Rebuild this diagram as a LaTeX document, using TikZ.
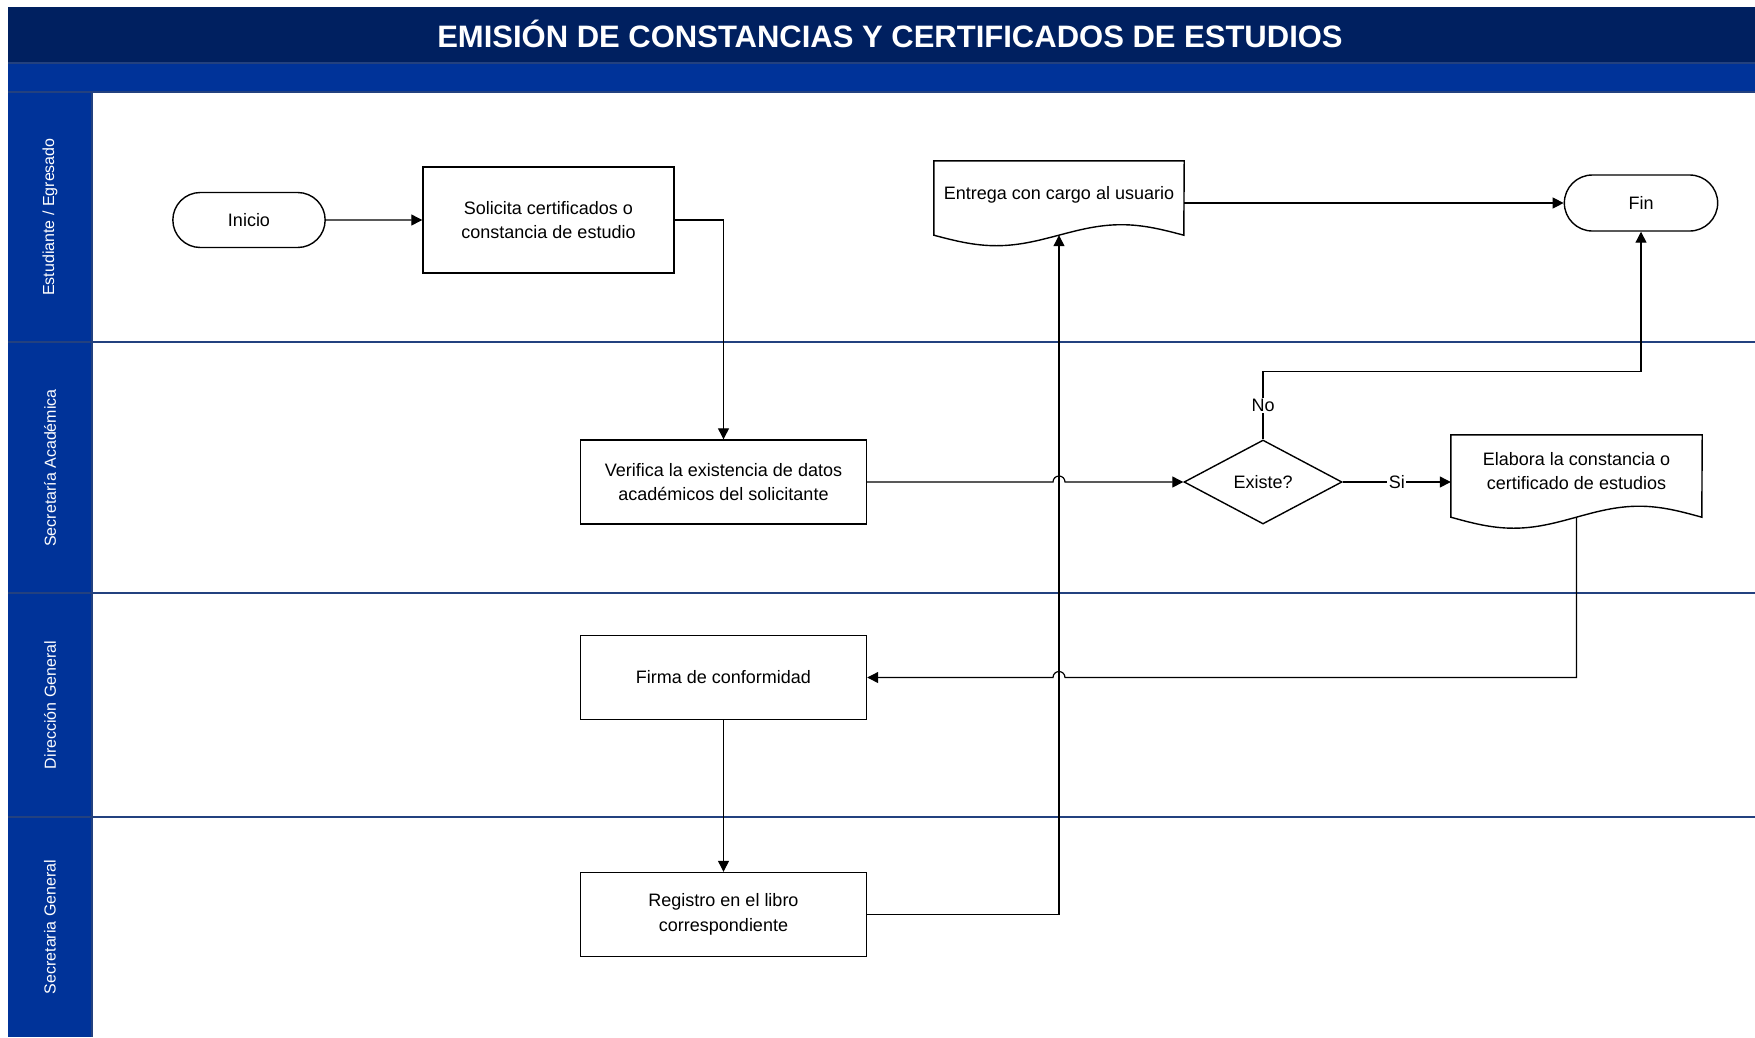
\documentclass[tikz,border=0pt]{standalone}
\usepackage{fontspec}
\setmainfont{Liberation Sans}
\usepackage{xcolor}
\usepackage{tikz}
\usetikzlibrary{arrows.meta,shapes.misc,shapes.geometric}
\definecolor{cTitulo}{HTML}{002060}
\definecolor{cCarril}{HTML}{003399}
\definecolor{cLinea}{HTML}{23417F}

\begin{document}
\begin{tikzpicture}[
  x=1pt,y=1pt,font=\fontsize{18}{24.6}\selectfont,
  caja/.style={draw=black,fill=white,line width=1.4pt,align=center,inner sep=2pt,
               minimum width=286,minimum height=84},
  term/.style={rounded rectangle,draw=black,fill=white,line width=1.4pt,align=center,
               minimum width=159,minimum height=55},
  doc/.style={rectangle,align=center,inner sep=2pt,minimum width=250,minimum height=74},
  dec/.style={diamond,draw=black,fill=white,line width=1.4pt,inner sep=0pt,
              minimum width=158,minimum height=84},
  borde/.style={draw=black,line width=1.4pt},
  ar/.style={-{Triangle[length=11pt,width=11pt]},draw=black,line width=1.2pt},
  sep/.style={draw=cLinea,line width=1.5pt},
  lbl/.style={fill=white,inner sep=1.5pt},
  carril/.style={rotate=90,text=white,font=\fontsize{16}{19}\selectfont},
  tit/.style={text=white,font=\fontsize{31}{36}\selectfont\bfseries}
]
\useasboundingbox (0,0) rectangle (1755,-1037);

% ---- encabezado y carriles
\fill[cTitulo] (8,-7) rectangle (1755,-63);
\fill[cCarril] (8,-63) rectangle (1755,-92);
\fill[cCarril] (8,-92) rectangle (92,-1037);
\draw[sep] (8,-63) -- (1755,-63);
\draw[sep] (8,-92) -- (1755,-92);
\draw[sep] (8,-342) -- (1755,-342);
\draw[sep] (8,-593) -- (1755,-593);
\draw[sep] (8,-817) -- (1755,-817);
\draw[sep] (92,-92) -- (92,-1037);
\node[tit] (titulo) at (890,-34) {EMISIÓN DE CONSTANCIAS Y CERTIFICADOS DE ESTUDIOS};
\node[carril] (l1) at (50,-217)   {Estudiante / Egresado};
\node[carril] (l2) at (50,-468)   {Secretaría Académica};
\node[carril] (l3) at (50,-705)   {Dirección General};
\node[carril] (l4) at (50,-927)   {Secretaria General};

% ---- carril 1
\node[term] (ini) at (249,-220)    {Inicio};
\node[caja,minimum width=251,minimum height=106] (sol) at (548.5,-220) {Solicita certificados o\\ constancia de estudio};
\node[doc,text depth=11pt] (ent) at (1059,-198) {Entrega con cargo al usuario};
\node[term,minimum width=160,minimum height=56] (fin) at (1641,-203) {Fin};

% ---- carril 2
\node[caja] (ver) at (723.5,-482)  {Verifica la existencia de datos\\ académicos del solicitante};
\node[dec] (exi) at (1263,-482)    {Existe?};
\node[doc,minimum width=251,minimum height=82,text depth=10pt] (ela) at (1576.5,-476) {Elabora la constancia o\\ certificado de estudios};

% ---- carriles 3 y 4
\node[caja] (fir) at (723.5,-677.5) {Firma de conformidad};
\node[caja] (reg) at (723.5,-914.5) {Registro en el libro\\ correspondiente};

% ---- documentos
\draw[borde] (ent.south west) sin ++(62.5,-10.5) cos ++(62.5,10.5) sin ++(62.5,10.5) cos ++(62.5,-10.5)
  -- (ent.north east) -- (ent.north west) -- cycle;
\draw[borde] (ela.south west) sin ++(62.75,-11) cos ++(62.75,11) sin ++(62.75,11) cos ++(62.75,-11)
  -- (ela.north east) -- (ela.north west) -- cycle;

% ---- flechas
\coordinate (j1) at (ver.east -| ent.south);
\coordinate (j2) at (fir.east -| ent.south);
\draw[ar] (ini) -- (sol);
\draw[ar] (sol.east) -| (ver.north);
\draw[ar] (ver.east) -- ([xshift=-6]j1) arc[start angle=180,end angle=0,radius=6] -- (exi.west);
\draw[ar] (exi.east) -- node[lbl] {Si} (exi.east -| ela.west);
\draw[ar] (exi.north) -- node[lbl] {No} ++(0,68) -| (fin.south);
\draw[ar] (ela.south) -- (ela.south |- fir.east) -- ([xshift=6]j2) arc[start angle=0,end angle=180,radius=6] -- (fir.east);
\draw[ar] (fir) -- (reg);
\draw[ar] (reg.east) -| (ent.south);
\draw[ar] (ent.east |- fin.west) -- (fin.west);
\end{tikzpicture}
\end{document}
